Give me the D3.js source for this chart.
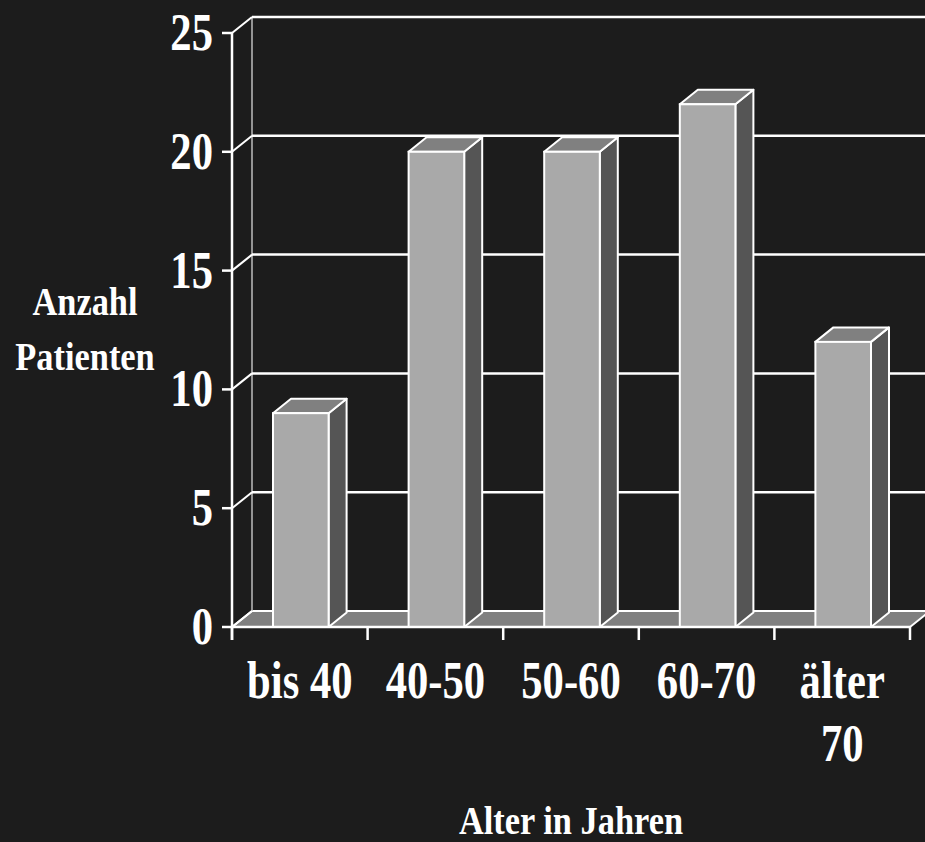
<!DOCTYPE html>
<html>
<head>
<meta charset="utf-8">
<script src="https://cdn.jsdelivr.net/npm/d3@7"></script>
<style>
  html, body { margin: 0; padding: 0; background: #1c1c1c; }
  svg { display: block; }
  text { font-family: "Liberation Serif", "Times New Roman", serif; font-weight: bold; fill: #ffffff; }
</style>
</head>
<body>
<script>
// Patients per age group
const categories = ["bis 40", "40-50", "50-60", "60-70", "älter\n70"];
const patients = [9, 20, 20, 22, 12];
const yTicks = [0, 5, 10, 15, 20, 25];
const yTitle = ["Anzahl", "Patienten"];
const xTitle = "Alter in Jahren";

const W = 925, H = 842;
const svg = d3.select("body").append("svg").attr("width", W).attr("height", H);
svg.append("rect").attr("width", W).attr("height", H).attr("fill", "#1c1c1c");

const x = d3.scaleBand().domain(categories).range([232, 910]);
const y = d3.scaleLinear().domain([0, 25]).range([627, 33]);

// oblique depth of the chart box and of the bars
const DX = 20, DY = -16;
const BDX = 18, BDY = -14.5;
const barW = x.bandwidth() * 0.41;

const x0 = x.range()[0], x1 = x.range()[1];
const line = d3.line();
const sx = 0.82;  // narrow face of the type
const sxT = 0.86; // axis titles

// floor
svg.append("path")
  .attr("d", line([[x0, y(0)], [x1, y(0)], [x1 + DX, y(0) + DY], [x0 + DX, y(0) + DY]]) + "Z")
  .attr("fill", "#808080").attr("stroke", "#ffffff").attr("stroke-width", 2).attr("stroke-linejoin", "round");

// back wall left edge
svg.append("line")
  .attr("x1", x0 + DX).attr("x2", x0 + DX)
  .attr("y1", y(25) + DY).attr("y2", y(0) + DY)
  .attr("stroke", "#bdbdbd").attr("stroke-width", 1.5);

// gridlines on back wall plus the receding connectors at the side wall
yTicks.forEach(t => {
  if (t > 0) {
    svg.append("line")
      .attr("x1", x0 + DX).attr("x2", W + 5)
      .attr("y1", y(t) + DY).attr("y2", y(t) + DY)
      .attr("stroke", "#ffffff").attr("stroke-width", 2.5);
  }
  svg.append("line")
    .attr("x1", x0).attr("y1", y(t))
    .attr("x2", x0 + DX).attr("y2", y(t) + DY)
    .attr("stroke", "#ffffff").attr("stroke-width", 2);
});

// bars as boxes: side, top, front
const bars = svg.append("g").selectAll("g").data(categories.map((c, i) => ({c, v: patients[i]}))).join("g");
bars.each(function(d) {
  const g = d3.select(this);
  const cx = x(d.c) + x.bandwidth() / 2 + 1;
  const L = cx - barW / 2, R = cx + barW / 2;
  const T = y(d.v), B = y(0);
  g.append("path")
    .attr("d", line([[R, B], [R + BDX, B + BDY], [R + BDX, T + BDY], [R, T]]) + "Z")
    .attr("fill", "#555555").attr("stroke", "#ffffff").attr("stroke-width", 2).attr("stroke-linejoin", "round");
  g.append("path")
    .attr("d", line([[L, T], [L + BDX, T + BDY], [R + BDX, T + BDY], [R, T]]) + "Z")
    .attr("fill", "#808080").attr("stroke", "#ffffff").attr("stroke-width", 2).attr("stroke-linejoin", "round");
  g.append("rect")
    .attr("x", L).attr("y", T).attr("width", barW).attr("height", B - T)
    .attr("fill", "#a9a9a9").attr("stroke", "#ffffff").attr("stroke-width", 2);
});

// front axes
svg.append("line").attr("x1", x0).attr("x2", x0).attr("y1", y(25)).attr("y2", y(0) + 13)
  .attr("stroke", "#ffffff").attr("stroke-width", 2.5);
svg.append("line").attr("x1", x0).attr("x2", x1).attr("y1", y(0)).attr("y2", y(0))
  .attr("stroke", "#ffffff").attr("stroke-width", 2.5);

// y ticks and labels
yTicks.forEach(t => {
  svg.append("line").attr("x1", x0 - 10).attr("x2", x0).attr("y1", y(t)).attr("y2", y(t))
    .attr("stroke", "#ffffff").attr("stroke-width", 2.5);
  svg.append("text")
    .attr("transform", `translate(${x0 - 19},${y(t) + 17}) scale(${sx},1)`)
    .attr("text-anchor", "end").attr("font-size", 52).text(t);
});

// x ticks at band edges
const edges = categories.map(c => x(c)).concat([x1]);
edges.forEach(e => {
  svg.append("line").attr("x1", e).attr("x2", e).attr("y1", y(0)).attr("y2", y(0) + 13)
    .attr("stroke", "#ffffff").attr("stroke-width", 2.5);
});

// category labels
categories.forEach(c => {
  const cx = x(c) + x.bandwidth() / 2;
  c.split("\n").forEach((part, k) => {
    svg.append("text")
      .attr("transform", `translate(${cx},${698 + k * 63}) scale(${sx},1)`)
      .attr("text-anchor", "middle").attr("font-size", 52).text(part);
  });
});

// axis titles
svg.append("text")
  .attr("transform", `translate(${(x0 + x1) / 2},${834}) scale(${sxT},1)`)
  .attr("text-anchor", "middle").attr("font-size", 40).text(xTitle);
yTitle.forEach((s, k) => {
  svg.append("text")
    .attr("transform", `translate(85,${315 + k * 55}) scale(${sxT},1)`)
    .attr("text-anchor", "middle").attr("font-size", 40).text(s);
});
</script>
</body>
</html>
